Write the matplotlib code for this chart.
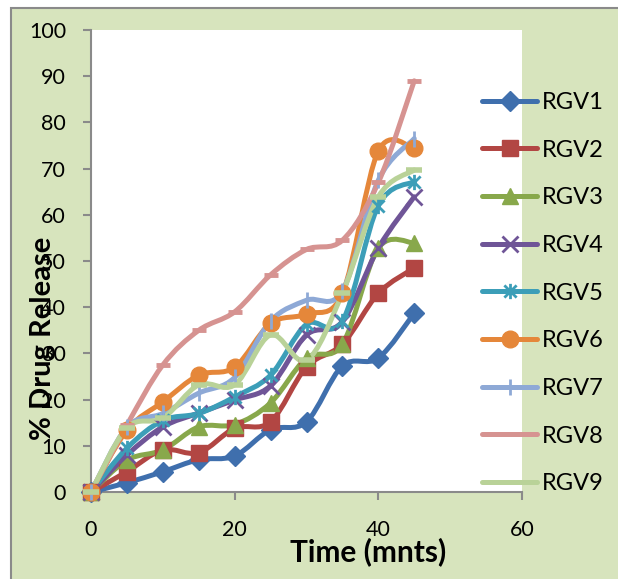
import numpy as np
import matplotlib
matplotlib.use("Agg")
import matplotlib.pyplot as plt
from matplotlib.path import Path
from matplotlib.patches import PathPatch, Rectangle
from matplotlib.lines import Line2D

# data
time_min = [0, 5, 10, 15, 20, 25, 30, 35, 40, 45]
rgv1 = [0, 2.0, 4.4, 7.0, 7.8, 13.5, 15.2, 27.3, 29.0, 38.7]
rgv2 = [0, 4.4, 9.1, 8.5, 13.8, 15.2, 27.1, 32.0, 43.0, 48.5]
rgv3 = [0, 6.9, 9.1, 14.1, 14.6, 19.3, 29.0, 32.0, 52.8, 53.9]
rgv4 = [0, 8.0, 14.1, 17.1, 19.9, 23.0, 34.0, 36.9, 52.8, 63.9]
rgv5 = [0, 9.5, 15.5, 17.0, 20.6, 25.3, 36.3, 37.0, 62.0, 67.2]
rgv6 = [0, 13.4, 19.5, 25.3, 27.0, 36.5, 38.5, 43.0, 73.8, 74.4]
rgv7 = [0, 14.0, 17.0, 21.4, 24.8, 37.0, 41.5, 43.5, 67.5, 76.5]
rgv8 = [0, 14.5, 27.5, 35.0, 39.0, 47.0, 52.5, 54.5, 67.0, 89.0]
rgv9 = [0, 13.9, 16.0, 23.2, 23.2, 34.0, 28.5, 43.0, 63.9, 69.7]

names = ["RGV1", "RGV2", "RGV3", "RGV4", "RGV5", "RGV6", "RGV7", "RGV8", "RGV9"]
series = [rgv1, rgv2, rgv3, rgv4, rgv5, rgv6, rgv7, rgv8, rgv9]
colors = ["#3F6FAD", "#B24643", "#88A84B", "#6F5597", "#3C9EB8",
          "#E5873A", "#8EA9D6", "#D69391", "#B9D298"]

# Excel-style "star" marker: an x with a vertical bar through it
STAR = Path([(-1, -1), (1, 1), (-1, 1), (1, -1), (0, -1.25), (0, 1.25)],
            [Path.MOVETO, Path.LINETO] * 3)

# marker, size, edge width
markers = [("D", 10, 1), ("s", 12, 1), ("^", 12, 1), ("x", 11, 2.0),
           (STAR, 11, 2.0), ("o", 12, 1), ("|", 11, 2.0), ("_", 10, 3.5),
           ("_", 12, 4.0)]

BG = "#D7E4BD"
W, H = 618, 579

plt.rcParams.update({
    "font.family": ["Lato", "DejaVu Sans"],
})


def smooth_path(x, y):
    """Excel-like smoothed line as cubic Bezier path (Catmull-Rom)."""
    pts = np.column_stack([x, y]).astype(float)
    n = len(pts)
    verts = [pts[0]]
    codes = [Path.MOVETO]
    for i in range(n - 1):
        p0 = pts[i - 1] if i > 0 else pts[i]
        p1 = pts[i]
        p2 = pts[i + 1]
        p3 = pts[i + 2] if i + 2 < n else pts[i + 1]
        c1 = p1 + (p2 - p0) / 6.0
        c2 = p2 - (p3 - p1) / 6.0
        verts += [c1, c2, p2]
        codes += [Path.CURVE4] * 3
    return Path(verts, codes)


fig = plt.figure(figsize=(W / 100, H / 100), dpi=100)
fig.patch.set_facecolor("white")
fig.patches.append(Rectangle((11 / W, -0.5), 2, 1.5 - 8 / H,
                             transform=fig.transFigure, facecolor=BG,
                             edgecolor="#8A8A8A", lw=1.5, zorder=-5))

ax = fig.add_axes([91 / W, (H - 492) / H, 431 / W, 462 / H])
ax.set_facecolor("white")

for ys, col, (mk, ms, mew) in zip(series, colors, markers):
    ax.add_patch(PathPatch(smooth_path(time_min, ys), facecolor="none",
                           edgecolor=col, lw=3.6, capstyle="round",
                           joinstyle="round", zorder=3))
    ax.plot(time_min, ys, marker=mk, color=col, ms=ms, mew=mew, ls="none",
            clip_on=False, zorder=4)

ax.set_xlim(0, 60)
ax.set_ylim(0, 100)
ax.set_xticks(range(0, 61, 20))
ax.set_yticks(range(0, 101, 10))
for s in ["top", "right"]:
    ax.spines[s].set_visible(False)
for s in ["left", "bottom"]:
    ax.spines[s].set_color("#8A8A8A")
    ax.spines[s].set_linewidth(1.5)
ax.tick_params(axis="both", color="#8A8A8A", width=1.5, length=6,
               labelsize=15.5, labelcolor="black")
ax.tick_params(axis="y", pad=12)
ax.tick_params(axis="x", pad=14)

fig.text(368 / W, 1 - 552 / H, "Time (mnts)", ha="center", va="center",
         fontsize=21.5, fontweight="bold")
fig.text(43 / W, 1 - 338 / H, "% Drug Release", ha="center", va="center",
         rotation=90, fontsize=21, fontweight="bold")

handles = []
for col, (mk, ms, mew) in zip(colors, markers):
    if isinstance(mk, str) and mk == "_":
        handles.append(Line2D([], [], color=col, lw=3.6,
                              solid_capstyle="round"))
    else:
        handles.append(Line2D([], [], color=col, lw=3.6, marker=mk, ms=ms,
                              mew=mew, solid_capstyle="round"))
fig.legend(handles, names, loc="upper left",
           bbox_to_anchor=(482 / W, 1 - 92 / H), frameon=False,
           fontsize=17, handlelength=2.35, handletextpad=0.2,
           labelspacing=1.13, borderpad=0, borderaxespad=0, numpoints=1)

fig.savefig("out.png", dpi=100, facecolor="white")
